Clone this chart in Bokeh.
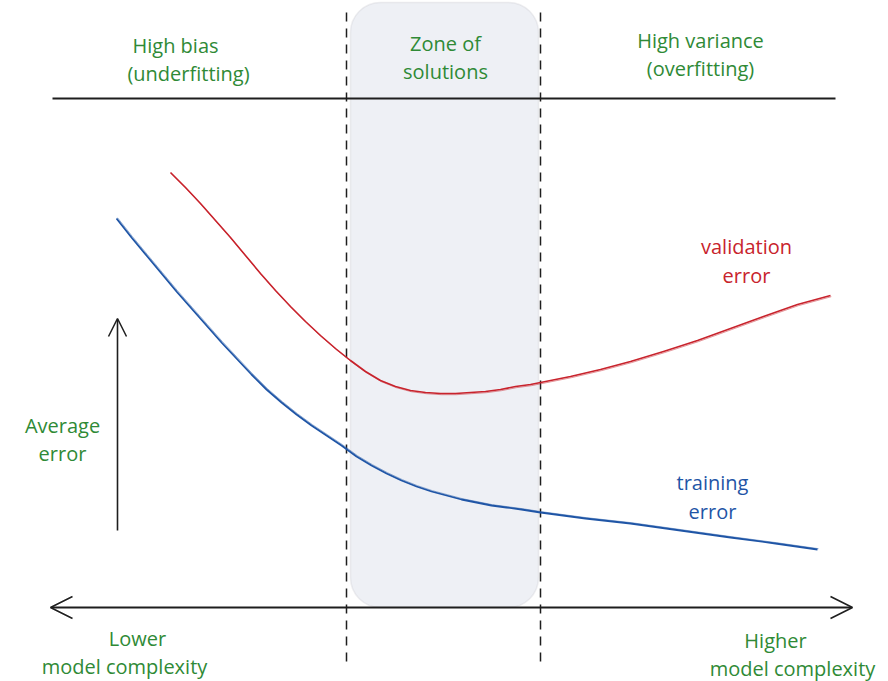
from bokeh.plotting import figure
from bokeh.models import Range1d, BoxAnnotation, Arrow, OpenHead, ColumnDataSource
from bokeh.core.properties import value
from bokeh.embed import file_html
from bokeh.resources import INLINE

# ---- data (canvas units: x = model complexity, y = error drawn downward) ----
val_x = [170, 185, 200, 215, 230, 245, 260, 275, 290, 305, 320, 335, 350, 365, 380, 395, 410,
         425, 440, 455, 470, 485, 500, 515, 530, 540, 570, 600, 630, 663, 697, 730, 763, 797, 830]
val_y = [172, 187, 203, 220, 237, 255, 273, 290, 306, 321, 335, 348, 360, 371, 380, 386, 390,
         392, 393, 393, 392, 391, 389, 386, 384, 382, 376, 369, 361, 351, 340, 328, 316, 304, 295]

train_x = [116, 131, 146, 161, 176, 191, 206, 221, 236, 251, 266, 281, 296, 311, 326, 341, 356,
           371, 386, 401, 416, 431, 446, 461, 476, 491, 506, 521, 540, 585, 630, 680, 730, 775, 817]
train_y = [218, 237, 255, 273, 291, 308, 325, 342, 358, 374, 389, 402, 414, 425, 435, 445, 456,
           465, 473, 480, 486, 491, 495, 499, 502, 505, 507, 509, 512, 518, 523, 530, 537, 543, 549]

zone_left, zone_right = 350, 538
bound_x = [346, 540]

green_labels = ["High bias", "(underfitting)", "Zone of", "solutions", "High variance",
                "(overfitting)", "Average", "error", "Lower", "model complexity",
                "Higher", "model complexity"]
green_lx = [175, 188, 445, 445, 700, 700, 62, 62, 137, 124, 775, 792]
green_ly = [45, 73, 43, 71, 40, 68, 425, 453, 638, 666, 640, 668]

red_labels = ["validation", "error"]
red_lx = [746, 746]
red_ly = [246, 275]

blue_labels = ["training", "error"]
blue_lx = [712, 712]
blue_ly = [482, 511]

GREEN = "#2f8a36"
RED = "#c8232c"
BLUE = "#1f55a6"
INK = "#1e1e1e"
FONT = value("Open Sans")

p = figure(width=888, height=681, x_range=Range1d(0, 888), y_range=Range1d(681, 0),
           output_backend="svg", toolbar_location=None, min_border=0,
           background_fill_color="white", border_fill_color="white")
p.axis.visible = False
p.grid.visible = False
p.outline_line_color = None

# zone of solutions
zone = BoxAnnotation(left=zone_left, right=zone_right, top=2, bottom=607,
                     fill_color="#eef0f5", fill_alpha=1.0, line_color="#c6c8cc",
                     line_width=1.5, border_radius=30, level="underlay")
p.add_layout(zone)

# top separator line
p.line([52, 835], [98, 98], line_color=INK, line_width=2)

# dashed boundaries
for bx in bound_x:
    p.line([bx, bx], [12, 668], line_color=INK, line_width=1.5, line_dash="9 7")

# curves (sketchy double stroke)
p.line(val_x, val_y, line_color=RED, line_width=1.6, line_join="round")
p.line([x + 0.8 for x in val_x], [y + 1.2 for y in val_y], line_color=RED, line_width=0.9,
       line_alpha=0.55, line_join="round")
p.line(train_x, train_y, line_color=BLUE, line_width=1.8, line_join="round")
p.line([x + 1.0 for x in train_x], [y - 0.8 for y in train_y], line_color=BLUE, line_width=0.9,
       line_alpha=0.55, line_join="round")

# axis arrows
p.add_layout(Arrow(x_start=50, y_start=607, x_end=852, y_end=607, line_color=INK, line_width=2,
                   start=OpenHead(size=22, line_color=INK, line_width=1.6),
                   end=OpenHead(size=22, line_color=INK, line_width=1.6)))
p.add_layout(Arrow(x_start=117, y_start=530, x_end=117, y_end=318, line_color=INK, line_width=1.6,
                   end=OpenHead(size=18, line_color=INK, line_width=1.5)))

# labels
for labels, lx, ly, col in [(green_labels, green_lx, green_ly, GREEN),
                            (red_labels, red_lx, red_ly, RED),
                            (blue_labels, blue_lx, blue_ly, BLUE)]:
    src = ColumnDataSource(dict(x=lx, y=ly, t=labels))
    p.text(x="x", y="y", text="t", source=src, text_align="center", text_baseline="middle",
           text_font=FONT, text_font_size="20px", text_color=col)

open("out.html", "w").write(file_html(p, INLINE))
